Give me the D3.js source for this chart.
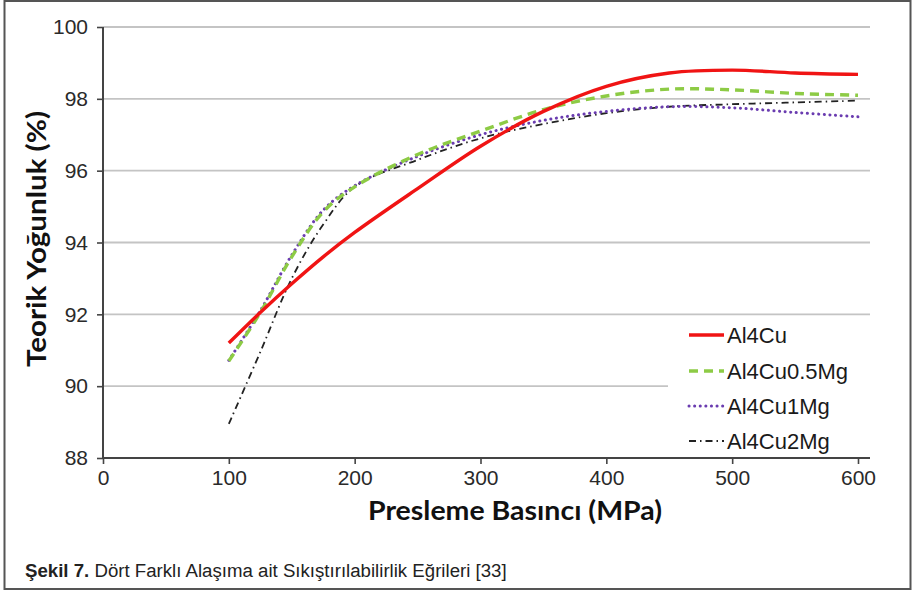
<!DOCTYPE html>
<html>
<head>
<meta charset="utf-8">
<script src="https://cdn.jsdelivr.net/npm/d3@7"></script>
<style>
  html, body { margin: 0; padding: 0; background: #fff; }
  svg { display: block; }
</style>
</head>
<body>
<svg id="chart" width="913" height="591"></svg>
<script>
// ---- data ----
const pressure = [100, 125, 150, 175, 200, 250, 300, 350, 400, 450, 500, 550, 600];
const al4cu      = [91.2, 92.05, 92.85, 93.6, 94.28, 95.5, 96.68, 97.65, 98.35, 98.72, 98.8, 98.72, 98.68];
const al4cu05mg  = [90.7, 92.05, 93.6, 94.85, 95.55, 96.45, 97.1, 97.7, 98.08, 98.27, 98.25, 98.15, 98.1];
const al4cu1mg   = [90.72, 92.1, 93.65, 94.9, 95.58, 96.4, 97.0, 97.4, 97.65, 97.78, 97.75, 97.62, 97.5];
const al4cu2mg   = [88.95, 90.95, 93.0, 94.5, 95.55, 96.3, 96.9, 97.3, 97.6, 97.78, 97.85, 97.9, 97.95];
const seriesNames = ["Al4Cu", "Al4Cu0.5Mg", "Al4Cu1Mg", "Al4Cu2Mg"];
const xTicks = [0, 100, 200, 300, 400, 500, 600];
const yTicks = [88, 90, 92, 94, 96, 98, 100];
const xTitle = "Presleme Basıncı (MPa)";
const yTitle = "Teorik Yoğunluk (%)";
const captionBold = "Şekil 7.";
const captionText = " Dört Farklı Alaşıma ait Sıkıştırılabilirlik Eğrileri [33]";

// ---- layout ----
const svg = d3.select("#chart");
const plotL = 103, plotR = 870, plotT = 27, plotB = 458;
const x = d3.scaleLinear().domain([0, 600]).range([plotL, 858]);
const y = d3.scaleLinear().domain([88, 100]).range([plotB, plotT]);

// outer frame
svg.append("rect").attr("x", 4.5).attr("y", 1).attr("width", 906).attr("height", 588)
  .attr("fill", "#fff").attr("stroke", "#555").attr("stroke-width", 2);

// grid
svg.append("g").selectAll("line").data(yTicks.filter(d => d > 88)).join("line")
  .attr("x1", plotL).attr("x2", plotR)
  .attr("y1", d => y(d)).attr("y2", d => y(d))
  .attr("stroke", "#c4c4c4").attr("stroke-width", 1.8);

// axes
const axisColor = "#444";
const yAxis = svg.append("g").attr("transform", `translate(${plotL},0)`)
  .call(d3.axisLeft(y).tickValues(yTicks).tickSize(6).tickPadding(9).tickFormat(d3.format("d")));
yAxis.select(".domain").attr("d", `M0,${plotT}V${plotB}`);
const xAxis = svg.append("g").attr("transform", `translate(0,${plotB})`)
  .call(d3.axisBottom(x).tickValues(xTicks).tickSize(6).tickPadding(5).tickFormat(d3.format("d")));
xAxis.select(".domain").attr("d", `M${plotL},0H${plotR}`);
[yAxis, xAxis].forEach(g => {
  g.select(".domain").attr("stroke", axisColor).attr("stroke-width", 2);
  g.selectAll(".tick line").attr("stroke", axisColor).attr("stroke-width", 1.6);
  g.selectAll(".tick text").attr("fill", "#2a2a2a")
    .style("font-family", "'Liberation Sans', Arial, sans-serif").style("font-size", "21px");
});
xAxis.selectAll(".tick text").attr("dy", "0.75em");

// series
const styles = [
  { color: "#f01414", width: 3.4, dash: null, cap: "butt" },
  { color: "#8dcb45", width: 3.4, dash: "9,6", cap: "butt" },
  { color: "#6a3cb0", width: 3.0, dash: "0.1,5.5", cap: "round" },
  { color: "#222222", width: 1.8, dash: "7,4,1.5,4", cap: "butt" }
];
const allSeries = [al4cu, al4cu05mg, al4cu1mg, al4cu2mg];
const line = d3.line().x(d => x(d[0])).y(d => y(d[1])).curve(d3.curveCatmullRom.alpha(0.5));
const drawOrder = [3, 2, 1, 0];
drawOrder.forEach(i => {
  const pts = pressure.map((p, k) => [p, allSeries[i][k]]);
  svg.append("path").datum(pts)
    .attr("d", line)
    .attr("fill", "none")
    .attr("stroke", styles[i].color)
    .attr("stroke-width", styles[i].width)
    .attr("stroke-linecap", styles[i].cap)
    .attr("stroke-dasharray", styles[i].dash);
});

// legend
const lg = svg.append("g");
lg.append("rect").attr("x", 668).attr("y", 319).attr("width", 202).attr("height", 137).attr("fill", "#fff");
const legendY = [335, 371, 406, 441];
seriesNames.forEach((name, i) => {
  const s = styles[i];
  lg.append("line").attr("x1", 689).attr("x2", 724).attr("y1", legendY[i]).attr("y2", legendY[i])
    .attr("stroke", s.color).attr("stroke-width", s.width)
    .attr("stroke-linecap", s.cap).attr("stroke-dasharray", s.dash);
  lg.append("text").attr("x", 727).attr("y", legendY[i] + 8)
    .style("font-family", "'Liberation Sans', Arial, sans-serif").style("font-size", "22px")
    .attr("fill", "#1a1a1a").text(name);
});

// axis titles
svg.append("text").attr("x", 515).attr("y", 520).attr("text-anchor", "middle")
  .style("font-family", "Lato, 'Open Sans', sans-serif").style("font-weight", "bold").style("font-size", "27px")
  .attr("textLength", 294).attr("lengthAdjust", "spacingAndGlyphs")
  .attr("fill", "#111").text(xTitle);
svg.append("text").attr("transform", "translate(46,239) rotate(-90)").attr("text-anchor", "middle")
  .style("font-family", "Lato, 'Open Sans', sans-serif").style("font-weight", "bold").style("font-size", "27px")
  .attr("textLength", 256).attr("lengthAdjust", "spacingAndGlyphs")
  .attr("fill", "#111").text(yTitle);

// caption
const cap = svg.append("text").attr("x", 0).attr("y", 0)
  .style("font-family", "'Liberation Sans', Arial, sans-serif").style("font-size", "19px").attr("fill", "#222");
cap.append("tspan").style("font-weight", "bold").text(captionBold);
cap.append("tspan").text(captionText);
const natural = cap.node().getComputedTextLength();
const targetW = 482;
cap.attr("transform", `translate(25,577) scale(${targetW / natural},1)`);
</script>
</body>
</html>
